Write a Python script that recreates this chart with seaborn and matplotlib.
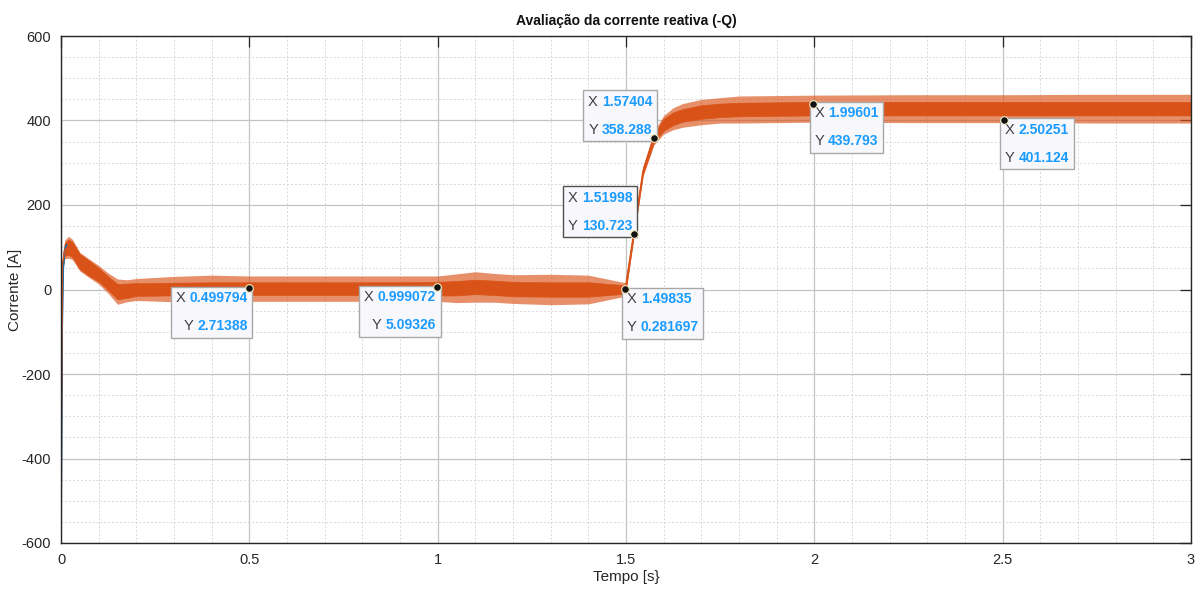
import numpy as np
import pandas as pd
import matplotlib
matplotlib.use("Agg")
import matplotlib.pyplot as plt
import seaborn as sns
from matplotlib.ticker import MultipleLocator
from matplotlib.offsetbox import TextArea, HPacker, VPacker, AnnotationBbox

# Sinal: tempo [s], valor médio [A]
tempo = np.array([0.000, 0.001, 0.004, 0.010, 0.020, 0.030, 0.050, 0.075, 0.100, 0.125,
                  0.150, 0.175, 0.200, 0.300, 0.400, 0.500, 0.600, 0.700, 0.800, 0.900,
                  1.000, 1.050, 1.100, 1.150, 1.200, 1.300, 1.400, 1.498, 1.520, 1.545,
                  1.574, 1.600, 1.625, 1.650, 1.700, 1.750, 1.800, 1.900, 2.000, 2.250,
                  2.500, 2.750, 3.000])
corrente = np.array([-600, -300, 60, 95, 100, 95, 66, 50, 35, 15,
                     -5, -3, 0, 1, 2, 2, 2, 2, 2, 2,
                     2, 3, 6, 4, 1, 0, 0, 0, 131, 280,
                     358, 390, 404, 412, 420, 424, 426, 427, 428, 428,
                     428, 428, 428])
# corpo do ruído (faixa densa) e picos (faixa externa), em A acima/abaixo do valor médio
ruido_corpo = np.array([0, 0, 10, 15, 18, 18, 18, 18, 16, 16,
                        18, 17, 15, 15, 15, 15, 15, 15, 15, 15,
                        16, 17, 17, 17, 17, 17, 17, 10, 8, 8,
                        10, 14, 15, 15, 16, 16, 16, 16, 16, 16,
                        16, 16, 16])
ruido_pico = np.array([0, 0, 18, 22, 26, 24, 22, 22, 22, 24,
                       30, 26, 26, 30, 32, 30, 30, 30, 30, 30,
                       30, 34, 36, 34, 34, 36, 34, 16, 12, 12,
                       16, 22, 26, 28, 30, 30, 32, 32, 32, 33,
                       33, 34, 34])

# Sinal de referência (azul), visível apenas no início
tempo_ref = [0.0, 0.003, 0.006, 0.010, 0.015]
corrente_ref = [-600, -100, 50, 95, 105]

# Data tips: x, y, texto X, texto Y, lado da caixa
tip_x = [0.499794, 0.999072, 1.49835, 1.51998, 1.57404, 1.99601, 2.50251]
tip_y = [2.71388, 5.09326, 0.281697, 130.723, 358.288, 439.793, 401.124]
tip_xs = ["0.499794", "0.999072", "1.49835", "1.51998", "1.57404", "1.99601", "2.50251"]
tip_ys = ["2.71388", "5.09326", "0.281697", "130.723", "358.288", "439.793", "401.124"]
tip_lado = ["sw", "sw", "se", "nw", "nw", "se", "se"]

laranja = "#D95319"
azul = "#0072BD"

sns.set_theme(style="white")
plt.rcParams["font.family"] = ["Liberation Sans", "DejaVu Sans"]
plt.rcParams["axes.unicode_minus"] = False

fig = plt.figure(figsize=(11.98, 5.95), dpi=100)
ax = fig.add_axes([61 / 1198, 1 - 543 / 595, 1130 / 1198, 507 / 595])

df = pd.DataFrame({"t": tempo, "i": corrente})
df_ref = pd.DataFrame({"t": tempo_ref, "i": corrente_ref})

sns.lineplot(data=df_ref, x="t", y="i", color=azul, lw=1.2, ax=ax)
ax.fill_between(tempo, corrente - ruido_pico, corrente + ruido_pico, color=laranja, lw=0, alpha=0.65)
ax.fill_between(tempo, corrente - ruido_corpo, corrente + ruido_corpo, color=laranja, lw=0.5)
sns.lineplot(data=df, x="t", y="i", color=laranja, lw=1.0, ax=ax)

ax.set_xlim(0, 3)
ax.set_ylim(-600, 600)
ax.set_xticks([0, 0.5, 1, 1.5, 2, 2.5, 3])
ax.set_xticklabels(["0", "0.5", "1", "1.5", "2", "2.5", "3"])
ax.xaxis.set_minor_locator(MultipleLocator(0.1))
ax.yaxis.set_major_locator(MultipleLocator(200))
ax.yaxis.set_minor_locator(MultipleLocator(50))

ax.grid(which="major", color="#c4c4c4", lw=0.9, ls="-")
ax.grid(which="minor", color="#d8d8d8", lw=0.7, ls=(0, (2, 2)))
ax.set_axisbelow(True)
ax.tick_params(which="major", direction="in", length=8, width=0.9, top=True, right=True,
               labelsize=10.5, colors="#262626", pad=7)
ax.tick_params(which="minor", length=0)
for s in ax.spines.values():
    s.set_visible(True)
    s.set_color("#262626")
    s.set_linewidth(1.0)

ax.set_title("Avaliação da corrente reativa (-Q)", fontsize=10, fontweight="bold", color="#111111", pad=8)
ax.set_xlabel("Tempo [s}", fontsize=11, color="#262626")
ax.set_ylabel("Corrente [A]", fontsize=11, color="#262626")
ax.xaxis.set_label_coords(0.5, -27 / 507)
ax.yaxis.set_label_coords(-39 / 1130, 0.5)

# caixas das data tips
ancora = {"sw": (1, 1), "se": (0, 1), "nw": (1, 0)}
desloc = {"sw": (-1, -2), "se": (1, -2), "nw": (-1, 1)}
for x, y, xs, ys, lado in zip(tip_x, tip_y, tip_xs, tip_ys, tip_lado):
    linhas = []
    for lab, val in (("X", xs), ("Y", ys)):
        linhas.append(HPacker(children=[
            TextArea(lab, textprops=dict(color="#404040", size=10.5)),
            TextArea(val, textprops=dict(color="#1a9bff", size=10, weight="bold"))],
            align="baseline", pad=0, sep=3))
    caixa = VPacker(children=linhas, align="right" if lado != "se" else "left", pad=0, sep=10)
    borda = "#505050" if x == 1.51998 else "#a8a8a8"
    ab = AnnotationBbox(caixa, (x, y), xybox=desloc[lado], xycoords="data",
                        boxcoords="offset points", box_alignment=ancora[lado], pad=0.9,
                        bboxprops=dict(boxstyle="square", fc="#f8f8fc", ec=borda, lw=1.0),
                        zorder=5)
    ax.add_artist(ab)
    ax.plot(x, y, "o", color="#111111", mec="#f2ebc0", mew=0.8, ms=5.5, zorder=6)

fig.savefig("out.png", dpi=100)
